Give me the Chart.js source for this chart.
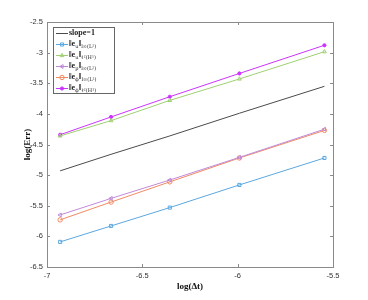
<!DOCTYPE html>
<html>
<head>
<meta charset="utf-8">
<script src="https://cdn.jsdelivr.net/npm/chart.js@4/dist/chart.umd.min.js"></script>
<style>
  html, body { margin: 0; padding: 0; background: #fff; }
  #wrap { width: 368px; height: 300px; }
</style>
</head>
<body>
<div id="wrap"><canvas id="c" width="368" height="300"></canvas></div>
<script>
// log(dt) values (x axis)
const logDt = [-6.931, -6.664, -6.356, -5.991, -5.545];
// reference line slope=1
const slopeRef = [-4.93, -4.66, -4.36, -3.99, -3.55];
// errors
const euL2 = [-6.09, -5.83, -5.53, -5.16, -4.72];
const euH1 = [-4.36, -4.11, -3.78, -3.43, -2.985];
const epL2 = [-5.65, -5.38, -5.08, -4.71, -4.25];
const edL2 = [-5.73, -5.44, -5.11, -4.72, -4.27];
const edH1 = [-4.34, -4.05, -3.72, -3.34, -2.88];

const xTicks = [-7, -6.5, -6, -5.5];
const yTicks = [-6.5, -6, -5.5, -5, -4.5, -4, -3.5, -3, -2.5];

// legend labels: [text, isSubscript]
const legendRich = [
  [["slope=1", 0]],
  [["‖e", 0], ["u", 1], ["‖", 0], ["l∞(L²)", 1]],
  [["‖e", 0], ["u", 1], ["‖", 0], ["ℓ²(H¹)", 1]],
  [["‖e", 0], ["p", 1], ["‖", 0], ["l∞(L²)", 1]],
  [["‖e", 0], ["ϕ", 1], ["‖", 0], ["l∞(L²)", 1]],
  [["‖e", 0], ["ϕ", 1], ["‖", 0], ["ℓ²(H¹)", 1]]
];

const pts = ys => logDt.map((x, i) => ({ x: x, y: ys[i] }));

function ds(label, ys, color, style, rot, fill) {
  return {
    label: label, data: pts(ys), showLine: true,
    borderColor: color, borderWidth: 1,
    pointStyle: style, pointRotation: rot || 0, pointRadius: fill ? 1.6 : 2.2,
    pointBorderColor: color, pointBackgroundColor: fill ? color : 'rgba(0,0,0,0)',
    pointBorderWidth: 1
  };
}

const datasets = [
  Object.assign(ds('slope=1', slopeRef, '#4a4a4a', 'line'), { pointRadius: 0 }),
  ds('euL2', euL2, '#5ba8e0', 'rect'),
  ds('euH1', euH1, '#9fd072', 'triangle'),
  ds('epL2', epL2, '#c08ad8', 'triangle', -90),
  ds('edL2', edL2, '#f38a62', 'circle'),
  ds('edH1', edH1, '#cc33ff', 'circle', 0, true)
];

// MATLAB-like box, inward ticks and in-axes legend
const boxPlugin = {
  id: 'box',
  afterDraw(chart) {
    const { ctx, chartArea: a, scales } = chart;
    ctx.save();
    ctx.strokeStyle = '#8a8a8a';
    ctx.lineWidth = 1;
    ctx.strokeRect(a.left + 0.5, a.top + 0.5, a.right - a.left, a.bottom - a.top);
    ctx.beginPath();
    xTicks.forEach(v => {
      const px = Math.round(scales.x.getPixelForValue(v)) + 0.5;
      ctx.moveTo(px, a.bottom); ctx.lineTo(px, a.bottom - 3);
      ctx.moveTo(px, a.top); ctx.lineTo(px, a.top + 3);
    });
    yTicks.forEach(v => {
      const py = Math.round(scales.y.getPixelForValue(v)) + 0.5;
      ctx.moveTo(a.left, py); ctx.lineTo(a.left + 3, py);
      ctx.moveTo(a.right, py); ctx.lineTo(a.right - 3, py);
    });
    ctx.stroke();

    // legend
    const lx = 53, ly = 27, lw = 61, lh = 66, rowH = 11;
    ctx.fillStyle = '#fff';
    ctx.fillRect(lx, ly, lw, lh);
    ctx.strokeStyle = '#666';
    ctx.strokeRect(lx + 0.5, ly + 0.5, lw, lh);
    datasets.forEach((d, i) => {
      const y = ly + 6 + i * rowH;
      ctx.strokeStyle = d.borderColor;
      ctx.lineWidth = 1;
      ctx.beginPath();
      ctx.moveTo(lx + 3, y + 0.5); ctx.lineTo(lx + 15, y + 0.5);
      ctx.stroke();
      if (d.pointRadius > 0) {
        ctx.fillStyle = d.pointBackgroundColor;
        ctx.strokeStyle = d.pointBorderColor;
        Chart.helpers.drawPoint(ctx, {
          pointStyle: d.pointStyle, rotation: d.pointRotation, radius: d.pointRadius, borderWidth: 1
        }, lx + 9, y + 0.5);
      }
      let tx = lx + 16;
      ctx.fillStyle = '#222';
      ctx.textBaseline = 'middle';
      ctx.textAlign = 'left';
      legendRich[i].forEach(([t, sub]) => {
        ctx.font = sub ? '5px "DejaVu Serif"' : 'bold 8px "Liberation Serif"';
        ctx.fillText(t, tx, y + (sub ? 2.5 : 0));
        tx += ctx.measureText(t).width + (sub ? 0.3 : 0);
      });
    });
    ctx.restore();
  }
};

new Chart(document.getElementById('c'), {
  type: 'scatter',
  data: { datasets: datasets },
  options: {
    responsive: false,
    animation: false,
    layout: { padding: { left: 22, right: 35, top: 22, bottom: 8 } },
    plugins: { legend: { display: false }, tooltip: { enabled: false } },
    scales: {
      x: {
        type: 'linear', min: -7, max: -5.5,
        afterBuildTicks: s => { s.ticks = xTicks.map(v => ({ value: v })); },
        afterFit: s => { s.height = 25; },
        grid: { display: false, drawTicks: false },
        border: { display: false },
        ticks: {
          color: '#333', font: { family: 'Liberation Sans', size: 7.5 }, padding: 4,
          maxRotation: 0, callback: v => String(v)
        },
        title: {
          display: true, text: 'log(Δt)', color: '#111', padding: { top: 2, bottom: 0 },
          font: { family: 'Liberation Serif', size: 9, weight: 'bold' }
        }
      },
      y: {
        type: 'linear', min: -6.5, max: -2.5,
        afterBuildTicks: s => { s.ticks = yTicks.map(v => ({ value: v })); },
        afterFit: s => { s.width = 25; },
        grid: { display: false, drawTicks: false },
        border: { display: false },
        ticks: {
          color: '#333', font: { family: 'Liberation Sans', size: 7.5 }, padding: 4,
          callback: v => String(v)
        },
        title: {
          display: true, text: 'log(Err)', color: '#111', padding: { top: 0, bottom: 0 },
          font: { family: 'Liberation Serif', size: 9, weight: 'bold' }
        }
      }
    }
  },
  plugins: [boxPlugin]
});
</script>
</body>
</html>
